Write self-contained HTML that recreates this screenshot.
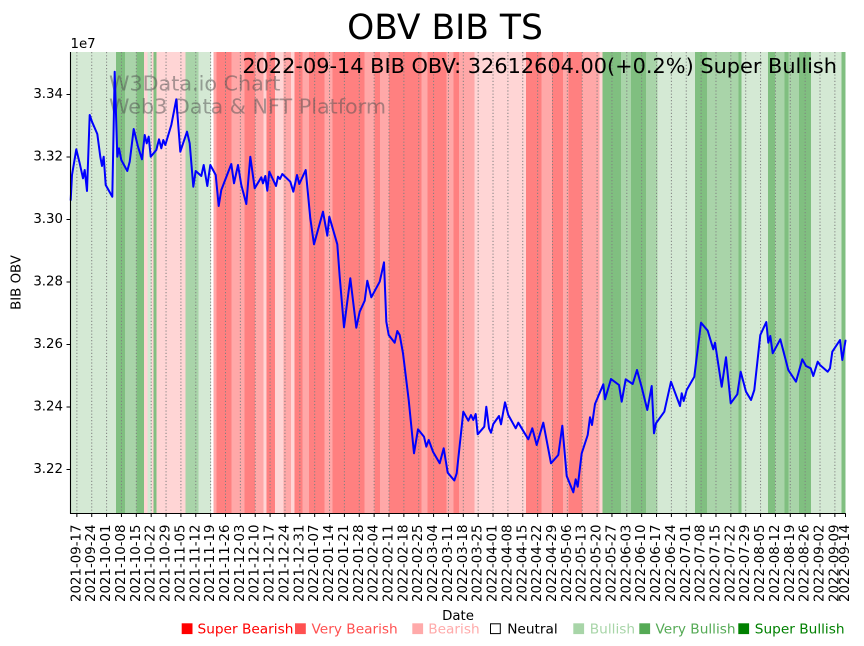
<!DOCTYPE html>
<html>
<head>
<meta charset="utf-8">
<style>
  html, body { margin:0; padding:0; background:#ffffff; }
  body { width:864px; height:646px; overflow:hidden; }
  svg { display:block; font-family:"DejaVu Sans","Liberation Sans",sans-serif; }
</style>
</head>
<body>
<svg width="864" height="646" viewBox="0 0 864 646" xmlns="http://www.w3.org/2000/svg">
  <rect x="0" y="0" width="864" height="646" fill="#ffffff"/>

  <!-- background bands -->
  <g shape-rendering="crispEdges">
    <rect x="70.5" y="52" width="45.5" height="461.5" fill="#d4e9d4"/>
    <rect x="116" y="52" width="9" height="461.5" fill="#80bf80"/>
    <rect x="125" y="52" width="11.5" height="461.5" fill="#a9d4a9"/>
    <rect x="136.5" y="52" width="7.5" height="461.5" fill="#80bf80"/>
    <rect x="144" y="52" width="3.3" height="461.5" fill="#ffd5d5"/>
    <rect x="147.3" y="52" width="4.4" height="461.5" fill="#d4e9d4"/>
    <rect x="151.7" y="52" width="1.6" height="461.5" fill="#ffd5d5"/>
    <rect x="153.3" y="52" width="3" height="461.5" fill="#80bf80"/>
    <rect x="156.3" y="52" width="29.2" height="461.5" fill="#ffd5d5"/>
    <rect x="185.5" y="52" width="13" height="461.5" fill="#a9d4a9"/>
    <rect x="198.5" y="52" width="12.5" height="461.5" fill="#d4e9d4"/>
    <rect x="213.7" y="52" width="3" height="461.5" fill="#ffa8a8"/>
    <rect x="216.7" y="52" width="15" height="461.5" fill="#ff8080"/>
    <rect x="231.7" y="52" width="12.6" height="461.5" fill="#ffa8a8"/>
    <rect x="244.3" y="52" width="10.7" height="461.5" fill="#ff8080"/>
    <rect x="255" y="52" width="8.3" height="461.5" fill="#ffa8a8"/>
    <rect x="263.3" y="52" width="3.4" height="461.5" fill="#ffd5d5"/>
    <rect x="266.7" y="52" width="8.3" height="461.5" fill="#ff8080"/>
    <rect x="275" y="52" width="8.3" height="461.5" fill="#ffd5d5"/>
    <rect x="283.3" y="52" width="7.7" height="461.5" fill="#ffa8a8"/>
    <rect x="291" y="52" width="3.3" height="461.5" fill="#ffd5d5"/>
    <rect x="294.3" y="52" width="8" height="461.5" fill="#ff8080"/>
    <rect x="302.3" y="52" width="6.7" height="461.5" fill="#ffa8a8"/>
    <rect x="309" y="52" width="15.3" height="461.5" fill="#ff8080"/>
    <rect x="324.3" y="52" width="8" height="461.5" fill="#ffa8a8"/>
    <rect x="332.3" y="52" width="32" height="461.5" fill="#ff8080"/>
    <rect x="364.3" y="52" width="10" height="461.5" fill="#ffa8a8"/>
    <rect x="374.3" y="52" width="5.7" height="461.5" fill="#ff8080"/>
    <rect x="380" y="52" width="9" height="461.5" fill="#ffa8a8"/>
    <rect x="389" y="52" width="32.7" height="461.5" fill="#ff8080"/>
    <rect x="421.7" y="52" width="6" height="461.5" fill="#ffa8a8"/>
    <rect x="427.7" y="52" width="19" height="461.5" fill="#ff8080"/>
    <rect x="446.7" y="52" width="6.6" height="461.5" fill="#ffa8a8"/>
    <rect x="453.3" y="52" width="5.7" height="461.5" fill="#ff8080"/>
    <rect x="459" y="52" width="15.3" height="461.5" fill="#ffa8a8"/>
    <rect x="474.3" y="52" width="51.7" height="461.5" fill="#ffd5d5"/>
    <rect x="526" y="52" width="15.5" height="461.5" fill="#ff8080"/>
    <rect x="541.5" y="52" width="10.5" height="461.5" fill="#ffa8a8"/>
    <rect x="552" y="52" width="11" height="461.5" fill="#ff8080"/>
    <rect x="563" y="52" width="5.5" height="461.5" fill="#ffa8a8"/>
    <rect x="568.5" y="52" width="13.5" height="461.5" fill="#ff8080"/>
    <rect x="582" y="52" width="17.5" height="461.5" fill="#ffa8a8"/>
    <rect x="599.5" y="52" width="3" height="461.5" fill="#ffd5d5"/>
    <rect x="602.5" y="52" width="18.5" height="461.5" fill="#80bf80"/>
    <rect x="621" y="52" width="10" height="461.5" fill="#a9d4a9"/>
    <rect x="631" y="52" width="15" height="461.5" fill="#80bf80"/>
    <rect x="646" y="52" width="11.3" height="461.5" fill="#a9d4a9"/>
    <rect x="657.3" y="52" width="37.7" height="461.5" fill="#d4e9d4"/>
    <rect x="695" y="52" width="12" height="461.5" fill="#80bf80"/>
    <rect x="707" y="52" width="31.5" height="461.5" fill="#a9d4a9"/>
    <rect x="738.5" y="52" width="2.8" height="461.5" fill="#80bf80"/>
    <rect x="741.3" y="52" width="26.5" height="461.5" fill="#d4e9d4"/>
    <rect x="767.8" y="52" width="7.2" height="461.5" fill="#80bf80"/>
    <rect x="775" y="52" width="9.3" height="461.5" fill="#a9d4a9"/>
    <rect x="784.3" y="52" width="4" height="461.5" fill="#80bf80"/>
    <rect x="788.3" y="52" width="10.7" height="461.5" fill="#a9d4a9"/>
    <rect x="799" y="52" width="12" height="461.5" fill="#80bf80"/>
    <rect x="811" y="52" width="30.7" height="461.5" fill="#d4e9d4"/>
    <rect x="841.7" y="52" width="3.8" height="461.5" fill="#80bf80"/>
  </g>

  <!-- dotted vertical grid -->
  <path fill="none" stroke="#808080" stroke-width="1" stroke-dasharray="1.2,2"
    d="M76.87 52V513 M91.73 52V513 M106.6 52V513 M121.46 52V513 M136.32 52V513 M151.19 52V513 M166.05 52V513 M180.91 52V513 M195.77 52V513 M210.64 52V513 M225.5 52V513 M240.36 52V513 M255.23 52V513 M270.09 52V513 M284.95 52V513 M299.82 52V513 M314.68 52V513 M329.54 52V513 M344.4 52V513 M359.27 52V513 M374.13 52V513 M388.99 52V513 M403.86 52V513 M418.72 52V513 M433.58 52V513 M448.45 52V513 M463.31 52V513 M478.17 52V513 M493.03 52V513 M507.9 52V513 M522.76 52V513 M537.62 52V513 M552.49 52V513 M567.35 52V513 M582.21 52V513 M597.08 52V513 M611.94 52V513 M626.8 52V513 M641.66 52V513 M656.53 52V513 M671.39 52V513 M686.25 52V513 M701.12 52V513 M715.98 52V513 M730.84 52V513 M745.71 52V513 M760.57 52V513 M775.43 52V513 M790.29 52V513 M805.16 52V513 M820.02 52V513 M834.88 52V513"/>

  <!-- watermark -->
  <g font-size="20.7" fill="#505050" fill-opacity="0.5">
    <text x="109" y="90.5">W3Data.io Chart</text>
    <text x="109" y="113.5">Web3 Data &amp; NFT Platform</text>
  </g>

  <!-- OBV line -->
  <polyline fill="none" stroke="#0000ff" stroke-width="2" stroke-linejoin="round" stroke-linecap="round"
    points="70.7,200 72,175 76.3,149.3 79.7,163.3 83,178.3 84.7,170 87,191 89.7,115 92,121.7 97.3,134 100.3,156.7 102,166 103.7,156.7 105.7,185 112.3,196.7 114.7,71.7 117.3,156.7 119,148.3 121.3,160 127.3,171 129.7,161.7 133.7,129 138,146.7 142,159.3 144.7,135 146.7,143.3 148.7,136.7 150.7,156.7 156.3,150 159,139.3 161.3,148.3 163.3,140 165.3,145 171.3,125 176.3,99.3 180.3,151.7 187,131.7 189.7,143.3 193.3,186.7 195.7,171 201.3,176 203.7,165 207.3,186 210.3,165 215.7,175 218.7,206 221.3,190 231.3,164 234,183.3 238,165 241.3,185 246.3,204 250.3,156.7 254.7,188.3 261.3,177.3 263,183.3 265.3,176 267.3,190.7 269.3,171.7 276,186 278,176.7 280,179 282.3,174 290.3,181.7 293.3,191.7 297,175 299.3,184 305.7,170 310.3,218.3 314,244.3 323,211.7 327.3,235.7 329.3,216.7 337.3,244.3 339.7,276.7 344,327.3 350.3,278.3 356.3,327.7 359.7,311.7 364.7,300.7 367.3,280.7 371.3,297.3 379.7,281.7 384,262.3 386.3,321.7 388.7,335 394.7,342.7 397.3,331 399.7,335 403,353.3 408.7,400 414,453.3 418,429.3 424,436.7 426.3,446.7 428.7,440 433,451.7 439.7,463.3 443.7,448.3 447.7,472.7 454.3,480.5 456.7,473.3 463.3,411.7 468.3,420.7 471,415 473.3,420 475.7,414 477.7,434.3 484.3,426.7 486.3,406.7 489,428.3 491,432.7 493.3,424 499,416 501,424.3 505,402.3 508.3,415 515.7,428.3 518.3,422.7 528.3,439.3 532.3,428.3 536.7,445 543.3,422.7 551,463.3 558.3,455 562.3,425.7 566.7,476 573.3,492.3 575.7,479.3 577.7,486.7 581.7,453.3 587.7,435 590,417.3 592,425 595,404 603.3,384.3 605,399.3 611,379 619,385 621.7,401.7 625.7,379.3 632.7,384 637,370 641.7,387.3 647.3,410 651.7,386 654,433.3 656,423.3 664.3,411.7 671,381.7 680,406 681.7,393.3 683.7,401 686.7,390 694.3,376.7 701,322.7 707.7,330.7 713.3,349.3 715,342.7 721.7,386.7 726,357.3 730.7,403.3 737.3,394.3 740.7,371.7 746,391.7 751,400 754.3,390 760.3,335 766.3,322 768.3,342.7 770.3,336 772.7,353.3 780.3,339.3 788.3,370 796,381.7 802.3,359.3 806,366 810.7,368.3 813.3,376 817.7,361.7 820,365 827.7,371.7 830,368.3 832.3,351.7 840,340 842.3,360 845.5,340.6"/>

  <!-- spines -->
  <g stroke="#000000" stroke-width="1.1" fill="none">
    <line x1="70.5" y1="52" x2="70.5" y2="513.5"/>
    <line x1="70" y1="513.5" x2="845.8" y2="513.5"/>
  </g>

  <!-- y ticks -->
  <path stroke="#000" stroke-width="1" fill="none"
    d="M66.5 94.5H70.5 M66.5 157H70.5 M66.5 219.5H70.5 M66.5 282H70.5 M66.5 344.5H70.5 M66.5 407H70.5 M66.5 469.5H70.5"/>
  <g font-size="13.33" fill="#000" text-anchor="end" dominant-baseline="central">
    <text x="63" y="94.5">3.34</text>
    <text x="63" y="157">3.32</text>
    <text x="63" y="219.5">3.30</text>
    <text x="63" y="282">3.28</text>
    <text x="63" y="344.5">3.26</text>
    <text x="63" y="407">3.24</text>
    <text x="63" y="469.5">3.22</text>
  </g>
  <text x="70.5" y="48" font-size="13.33" fill="#000">1e7</text>
  <text transform="translate(20.5,282.5) rotate(-90)" text-anchor="middle" font-size="13.33" fill="#000">BIB OBV</text>

  <!-- x ticks -->
  <path stroke="#000" stroke-width="1" fill="none"
    d="M76.87 513.5V517 M91.73 513.5V517 M106.6 513.5V517 M121.46 513.5V517 M136.32 513.5V517 M151.19 513.5V517 M166.05 513.5V517 M180.91 513.5V517 M195.77 513.5V517 M210.64 513.5V517 M225.5 513.5V517 M240.36 513.5V517 M255.23 513.5V517 M270.09 513.5V517 M284.95 513.5V517 M299.82 513.5V517 M314.68 513.5V517 M329.54 513.5V517 M344.4 513.5V517 M359.27 513.5V517 M374.13 513.5V517 M388.99 513.5V517 M403.86 513.5V517 M418.72 513.5V517 M433.58 513.5V517 M448.45 513.5V517 M463.31 513.5V517 M478.17 513.5V517 M493.03 513.5V517 M507.9 513.5V517 M522.76 513.5V517 M537.62 513.5V517 M552.49 513.5V517 M567.35 513.5V517 M582.21 513.5V517 M597.08 513.5V517 M611.94 513.5V517 M626.8 513.5V517 M641.66 513.5V517 M656.53 513.5V517 M671.39 513.5V517 M686.25 513.5V517 M701.12 513.5V517 M715.98 513.5V517 M730.84 513.5V517 M745.71 513.5V517 M760.57 513.5V517 M775.43 513.5V517 M790.29 513.5V517 M805.16 513.5V517 M820.02 513.5V517 M834.88 513.5V517 M845.5 513.5V517"/>
  <g font-size="13.33" fill="#000" text-anchor="end" dominant-baseline="central">
    <text transform="translate(76.87,524.5) rotate(-90)">2021-09-17</text>
    <text transform="translate(91.73,524.5) rotate(-90)">2021-09-24</text>
    <text transform="translate(106.6,524.5) rotate(-90)">2021-10-01</text>
    <text transform="translate(121.46,524.5) rotate(-90)">2021-10-08</text>
    <text transform="translate(136.32,524.5) rotate(-90)">2021-10-15</text>
    <text transform="translate(151.19,524.5) rotate(-90)">2021-10-22</text>
    <text transform="translate(166.05,524.5) rotate(-90)">2021-10-29</text>
    <text transform="translate(180.91,524.5) rotate(-90)">2021-11-05</text>
    <text transform="translate(195.77,524.5) rotate(-90)">2021-11-12</text>
    <text transform="translate(210.64,524.5) rotate(-90)">2021-11-19</text>
    <text transform="translate(225.5,524.5) rotate(-90)">2021-11-26</text>
    <text transform="translate(240.36,524.5) rotate(-90)">2021-12-03</text>
    <text transform="translate(255.23,524.5) rotate(-90)">2021-12-10</text>
    <text transform="translate(270.09,524.5) rotate(-90)">2021-12-17</text>
    <text transform="translate(284.95,524.5) rotate(-90)">2021-12-24</text>
    <text transform="translate(299.82,524.5) rotate(-90)">2021-12-31</text>
    <text transform="translate(314.68,524.5) rotate(-90)">2022-01-07</text>
    <text transform="translate(329.54,524.5) rotate(-90)">2022-01-14</text>
    <text transform="translate(344.4,524.5) rotate(-90)">2022-01-21</text>
    <text transform="translate(359.27,524.5) rotate(-90)">2022-01-28</text>
    <text transform="translate(374.13,524.5) rotate(-90)">2022-02-04</text>
    <text transform="translate(388.99,524.5) rotate(-90)">2022-02-11</text>
    <text transform="translate(403.86,524.5) rotate(-90)">2022-02-18</text>
    <text transform="translate(418.72,524.5) rotate(-90)">2022-02-25</text>
    <text transform="translate(433.58,524.5) rotate(-90)">2022-03-04</text>
    <text transform="translate(448.45,524.5) rotate(-90)">2022-03-11</text>
    <text transform="translate(463.31,524.5) rotate(-90)">2022-03-18</text>
    <text transform="translate(478.17,524.5) rotate(-90)">2022-03-25</text>
    <text transform="translate(493.03,524.5) rotate(-90)">2022-04-01</text>
    <text transform="translate(507.9,524.5) rotate(-90)">2022-04-08</text>
    <text transform="translate(522.76,524.5) rotate(-90)">2022-04-15</text>
    <text transform="translate(537.62,524.5) rotate(-90)">2022-04-22</text>
    <text transform="translate(552.49,524.5) rotate(-90)">2022-04-29</text>
    <text transform="translate(567.35,524.5) rotate(-90)">2022-05-06</text>
    <text transform="translate(582.21,524.5) rotate(-90)">2022-05-13</text>
    <text transform="translate(597.08,524.5) rotate(-90)">2022-05-20</text>
    <text transform="translate(611.94,524.5) rotate(-90)">2022-05-27</text>
    <text transform="translate(626.8,524.5) rotate(-90)">2022-06-03</text>
    <text transform="translate(641.66,524.5) rotate(-90)">2022-06-10</text>
    <text transform="translate(656.53,524.5) rotate(-90)">2022-06-17</text>
    <text transform="translate(671.39,524.5) rotate(-90)">2022-06-24</text>
    <text transform="translate(686.25,524.5) rotate(-90)">2022-07-01</text>
    <text transform="translate(701.12,524.5) rotate(-90)">2022-07-08</text>
    <text transform="translate(715.98,524.5) rotate(-90)">2022-07-15</text>
    <text transform="translate(730.84,524.5) rotate(-90)">2022-07-22</text>
    <text transform="translate(745.71,524.5) rotate(-90)">2022-07-29</text>
    <text transform="translate(760.57,524.5) rotate(-90)">2022-08-05</text>
    <text transform="translate(775.43,524.5) rotate(-90)">2022-08-12</text>
    <text transform="translate(790.29,524.5) rotate(-90)">2022-08-19</text>
    <text transform="translate(805.16,524.5) rotate(-90)">2022-08-26</text>
    <text transform="translate(820.02,524.5) rotate(-90)">2022-09-02</text>
    <text transform="translate(834.88,524.5) rotate(-90)">2022-09-09</text>
    <text transform="translate(845.5,524.5) rotate(-90)">2022-09-14</text>
  </g>

  <!-- titles -->
  <text x="445" y="39" font-size="34.5" text-anchor="middle" fill="#000">OBV BIB TS</text>
  <text x="837" y="73" font-size="20.85" text-anchor="end" fill="#000">2022-09-14 BIB OBV: 32612604.00(+0.2%) Super Bullish</text>
  <text x="458" y="620" font-size="13.33" text-anchor="middle" fill="#000">Date</text>

  <!-- legend -->
  <g font-size="13.7">
    <rect x="181.7" y="623.3" width="10.8" height="10.8" fill="#ff0000"/>
    <text x="197.5" y="633.5" fill="#ff0000">Super Bearish</text>
    <rect x="295" y="623.3" width="10.8" height="10.8" fill="#ff5050"/>
    <text x="311.5" y="633.5" fill="#ff5050">Very Bearish</text>
    <rect x="412.3" y="623.3" width="10.8" height="10.8" fill="#ffaaaa"/>
    <text x="428.2" y="633.5" fill="#ffaaaa">Bearish</text>
    <rect x="490.5" y="623.8" width="9.8" height="9.8" fill="none" stroke="#000" stroke-width="1"/>
    <text x="507.2" y="633.5" fill="#000">Neutral</text>
    <rect x="573.3" y="623.3" width="10.8" height="10.8" fill="#a8d5a8"/>
    <text x="589.8" y="633.5" fill="#a8d5a8">Bullish</text>
    <rect x="639.3" y="623.3" width="10.8" height="10.8" fill="#55aa55"/>
    <text x="655.5" y="633.5" fill="#55aa55">Very Bullish</text>
    <rect x="738.3" y="623.3" width="10.8" height="10.8" fill="#008000"/>
    <text x="754.8" y="633.5" fill="#008000">Super Bullish</text>
  </g>
</svg>
</body>
</html>
